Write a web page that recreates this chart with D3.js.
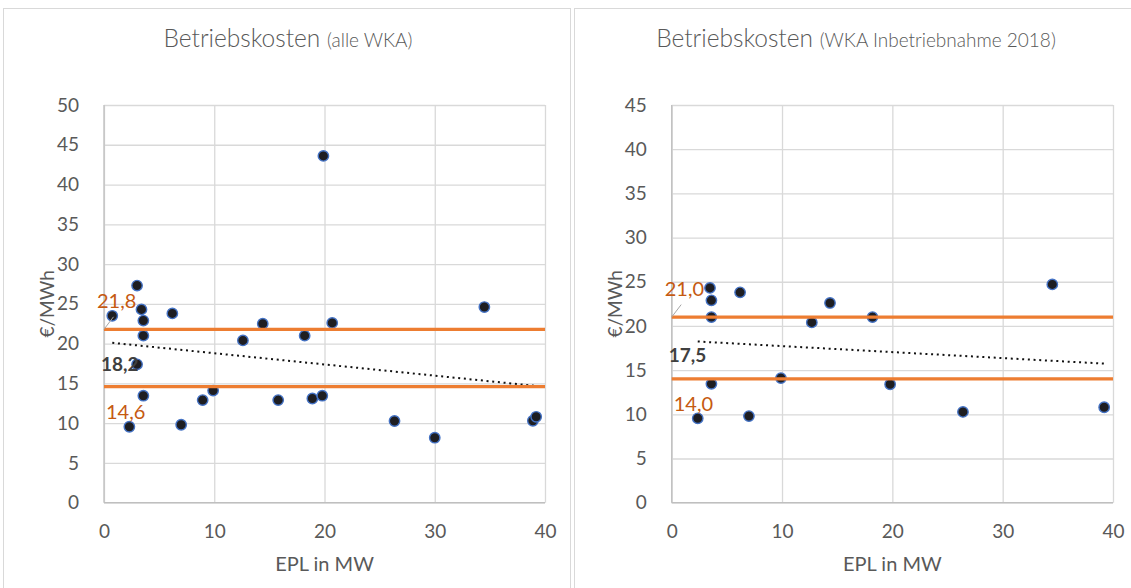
<!DOCTYPE html>
<html><head><meta charset="utf-8">
<script src="https://cdn.jsdelivr.net/npm/d3@7"></script>
<style>
html,body{margin:0;padding:0;background:#fff;}
svg{display:block;font-family:Lato, "Open Sans", sans-serif;}
</style></head>
<body><svg id="c" width="1131" height="588"></svg>
<script>
// ---- data ----
const leftX  = [0.75, 2.3, 3.0, 3.0, 3.4, 3.57, 3.57, 3.57, 6.2, 7.0, 8.95, 9.9, 12.6, 14.4, 15.8, 18.2, 18.9, 19.8, 19.9, 20.7, 26.35, 30.0, 34.5, 38.9, 39.2];
const leftY  = [23.5, 9.55, 27.3, 17.4, 24.3, 22.9, 21.0, 13.45, 23.8, 9.8, 12.9, 14.1, 20.4, 22.5, 12.9, 21.0, 13.1, 13.45, 43.6, 22.6, 10.27, 8.17, 24.6, 10.3, 10.8];
const rightX = [2.36, 3.47, 3.6, 3.6, 3.6, 6.2, 7.0, 9.9, 12.7, 14.35, 18.2, 19.8, 26.4, 34.5, 39.2];
const rightY = [9.55, 24.3, 22.9, 21.0, 13.45, 23.8, 9.8, 14.1, 20.4, 22.6, 21.0, 13.4, 10.27, 24.7, 10.8];
const leftBands  = [21.8, 14.6];   // upper, lower reference lines
const rightBands = [21.0, 14.0];
const leftMean  = 18.2;
const rightMean = 17.5;
const xTicks = [0, 10, 20, 30, 40];
const leftYTicks  = [0, 5, 10, 15, 20, 25, 30, 35, 40, 45, 50];
const rightYTicks = [0, 5, 10, 15, 20, 25, 30, 35, 40, 45];
const titles = [["Betriebskosten", "(alle WKA)"], ["Betriebskosten", "(WKA Inbetriebnahme 2018)"]];
const xTitle = "EPL in MW";
const yTitle = "€/MWh";

const fmt = v => v.toFixed(1).replace(".", ",");
const svg = d3.select("#c");
const gray = "#595959";

// panel borders
svg.append("rect").attr("x", 3.5).attr("y", 8.5).attr("width", 567).attr("height", 600)
  .attr("fill", "none").attr("stroke", "#d9d9d9");
svg.append("rect").attr("x", 574.5).attr("y", 8.5).attr("width", 600).attr("height", 600)
  .attr("fill", "none").attr("stroke", "#d9d9d9");

function regression(xs, ys) {
  const n = xs.length, mx = d3.mean(xs), my = d3.mean(ys);
  let sxy = 0, sxx = 0;
  for (let i = 0; i < n; i++) { sxy += (xs[i]-mx)*(ys[i]-my); sxx += (xs[i]-mx)**2; }
  const b = sxy / sxx; return { b, a: my - b*mx };
}

function chart(cfg) {
  const { x0, x1, y0, y1, ymax, xs, ys, bands, mean, yTicks, title, titleCx } = cfg;
  const x = d3.scaleLinear().domain([0, 40]).range([x0, x1]);
  const y = d3.scaleLinear().domain([0, ymax]).range([y1, y0]);
  const g = svg.append("g");

  // title
  const t = g.append("text").attr("x", titleCx).attr("y", 47).attr("text-anchor", "middle")
    .attr("fill", gray).attr("font-weight", 300);
  t.append("tspan").attr("font-size", 24.5).text(title[0] + " ");
  t.append("tspan").attr("font-size", 19).text(title[1]);

  // gridlines
  const gy = g.append("g").attr("transform", `translate(${x0},0)`)
    .call(d3.axisLeft(y).tickValues(yTicks).tickSize(-(x1 - x0)).tickFormat(d => d).tickPadding(21));
  const gx = g.append("g").attr("transform", `translate(0,${y1})`)
    .call(d3.axisBottom(x).tickValues(xTicks).tickSize(-(y1 - y0)).tickPadding(22));
  [gy, gx].forEach(a => {
    a.select(".domain").remove();
    a.selectAll(".tick line").attr("stroke", "#d9d9d9").attr("stroke-width", 1.3);
    a.selectAll(".tick text").attr("fill", gray).attr("font-size", 19).attr("font-family", "Lato");
  });
  gy.selectAll(".tick text").attr("dx", -4);
  // axis lines
  g.append("line").attr("x1", x0).attr("x2", x0).attr("y1", y0).attr("y2", y1).attr("stroke", "#bfbfbf").attr("stroke-width", 1.3);
  g.append("line").attr("x1", x0).attr("x2", x1).attr("y1", y1).attr("y2", y1).attr("stroke", "#bfbfbf").attr("stroke-width", 1.3);

  // axis titles
  g.append("text").attr("x", (x0 + x1) / 2).attr("y", 571).attr("text-anchor", "middle")
    .attr("fill", gray).attr("font-size", 20).text(xTitle);
  g.append("text").attr("transform", `translate(${x0 - 50},${(y0 + y1) / 2}) rotate(-90)`)
    .attr("text-anchor", "middle").attr("fill", gray).attr("font-size", 19).text(yTitle);

  // points
  const pts = xs.map((v, i) => [v, ys[i]]);
  g.append("g").selectAll("circle").data(pts).join("circle")
    .attr("cx", d => x(d[0])).attr("cy", d => y(d[1])).attr("r", 5.2)
    .attr("fill", "#1e1e22").attr("stroke", "#4472c4").attr("stroke-width", 1.4);

  // trend line (linear regression of the points)
  const r = regression(xs, ys);
  const xmin = d3.min(xs), xmax = d3.max(xs);
  g.append("line").attr("x1", x(xmin)).attr("y1", y(r.a + r.b*xmin)).attr("x2", x(xmax)).attr("y2", y(r.a + r.b*xmax))
    .attr("stroke", "#111").attr("stroke-width", 2).attr("stroke-dasharray", "2,3.7");

  // orange reference lines
  g.append("g").selectAll("line").data(bands).join("line")
    .attr("x1", x(0)).attr("x2", x(40)).attr("y1", d => y(d)).attr("y2", d => y(d))
    .attr("stroke", "#ed7d31").attr("stroke-width", 3.2);

  // labels
  g.append("line").attr("x1", x(0)).attr("y1", y(bands[0])).attr("x2", x(0) + 9.5).attr("y2", y(bands[0]) - 12.5)
    .attr("stroke", "#a6a6a6").attr("stroke-width", 1);
  g.append("text").attr("x", x(0) - 7).attr("y", y(bands[0]) - 21).attr("fill", "#c55a11")
    .attr("font-size", 20).text(fmt(bands[0]));
  g.append("text").attr("x", x(0) + 2).attr("y", y(bands[1]) + 32).attr("fill", "#c55a11")
    .attr("font-size", 20).text(fmt(bands[1]));
  g.append("text").attr("x", x(0) - 3).attr("y", y(mean) + 13.5).attr("fill", "#404040")
    .attr("font-size", 19).attr("font-weight", "bold").text(fmt(mean));
}

chart({ x0: 104, x1: 545, y0: 105, y1: 502.7, ymax: 50, xs: leftX, ys: leftY, bands: leftBands, mean: leftMean,
  yTicks: leftYTicks, title: titles[0], titleCx: 288 });
chart({ x0: 671.7, x1: 1113, y0: 105, y1: 502.7, ymax: 45, xs: rightX, ys: rightY, bands: rightBands, mean: rightMean,
  yTicks: rightYTicks, title: titles[1], titleCx: 856 });
</script></body></html>
